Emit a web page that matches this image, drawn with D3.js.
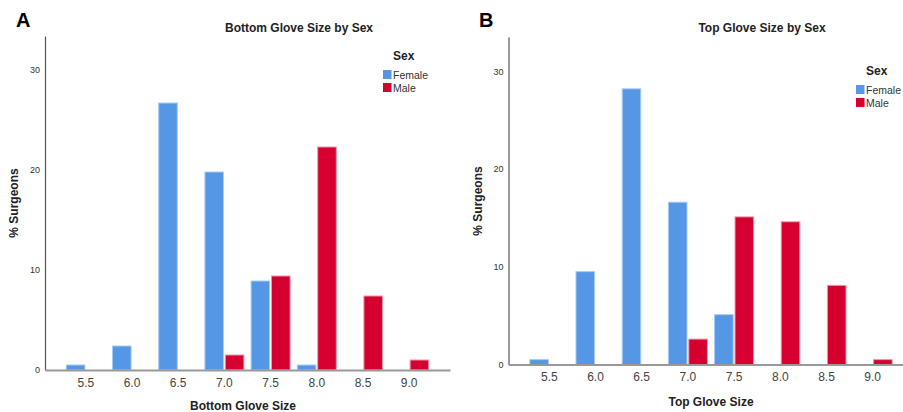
<!DOCTYPE html>
<html>
<head>
<meta charset="utf-8">
<script src="https://cdn.jsdelivr.net/npm/d3@7"></script>
<style>
  body { margin: 0; background: #fff; }
  svg { font-family: "Liberation Sans", Arial, sans-serif; display: block; }
</style>
</head>
<body>
<div id="chart"></div>
<script>
const sizes = ['5.5', '6.0', '6.5', '7.0', '7.5', '8.0', '8.5', '9.0'];
const sexes = ['Female', 'Male'];
const yTicks = [0, 10, 20, 30];

// % surgeons per glove size
const bottomFemale = [0.5, 2.4, 26.7, 19.8, 8.9, 0.5, 0, 0];
const bottomMale = [0, 0, 0, 1.5, 9.4, 22.3, 7.4, 1.0];
const topFemale = [0.5, 9.5, 28.2, 16.6, 5.1, 0, 0, 0];
const topMale = [0, 0, 0, 2.6, 15.1, 14.6, 8.1, 0.5];

const fill = { Female: '#5596e5', Male: '#d5002f' };
const edge = { Female: '#a8cbf4', Male: '#ec98a8' };

const width = 903, height = 412;

const svg = d3.select('#chart')
    .append('svg')
    .attr('width', width)
    .attr('height', height);

const panels = [
    {
        letter: 'A', letterX: 16, title: 'Bottom Glove Size by Sex', titleX: 299,
        xLabel: 'Bottom Glove Size', xLabelX: 243, xLabelY: 410,
        left: 45, yTop: 36, yZero: 370, yMax: 33.4, yLabelX: 18, yLabelY: 203,
        legendX: 383, legendY: 60,
        female: bottomFemale, male: bottomMale
    },
    {
        letter: 'B', letterX: 479, title: 'Top Glove Size by Sex', titleX: 762,
        xLabel: 'Top Glove Size', xLabelX: 711, xLabelY: 406,
        left: 508.5, yTop: 37, yZero: 364.5, yMax: 33.5, yLabelX: 482, yLabelY: 201,
        legendX: 856, legendY: 75,
        female: topFemale, male: topMale
    }
];

panels.forEach(p => {
    const g = svg.append('g');

    const x0 = d3.scaleBand()
        .domain(sizes)
        .range([p.left, p.left + 405])
        .paddingInner(0.134)
        .paddingOuter(0.45);

    const x1 = d3.scaleBand()
        .domain(sexes)
        .range([0, x0.bandwidth()])
        .paddingInner(0.04);

    const y = d3.scaleLinear()
        .domain([0, p.yMax])
        .range([p.yZero, p.yTop]);

    const rows = sizes.map((s, i) => ({ size: s, Female: p.female[i], Male: p.male[i] }));

    // bars
    g.selectAll('.group')
        .data(rows)
        .enter().append('g')
        .attr('transform', d => `translate(${x0(d.size)},0)`)
        .selectAll('rect')
        .data(d => sexes.map(k => ({ key: k, value: d[k] })).filter(b => b.value > 0))
        .enter().append('rect')
        .attr('x', d => x1(d.key) + 0.5)
        .attr('width', x1.bandwidth() - 1)
        .attr('y', d => y(d.value))
        .attr('height', d => y(0) - y(d.value))
        .attr('fill', d => fill[d.key])
        .attr('stroke', d => edge[d.key])
        .attr('stroke-width', 1);

    // y axis
    const yAxis = g.append('g')
        .attr('transform', `translate(${p.left},0)`)
        .call(d3.axisLeft(y).tickValues(yTicks).tickSize(0).tickPadding(5).tickSizeOuter(0));
    yAxis.select('.domain').attr('stroke', '#555').attr('stroke-width', 1.2);
    yAxis.selectAll('text')
        .attr('font-size', 9)
        .attr('fill', '#333')
        .attr('font-family', '"Liberation Sans", Arial, sans-serif');

    // x axis
    const xAxis = g.append('g')
        .attr('transform', `translate(0,${p.yZero})`)
        .call(d3.axisBottom(x0).tickSize(0).tickPadding(8).tickSizeOuter(0));
    xAxis.select('.domain').attr('stroke', '#999').attr('stroke-width', 1.8);
    xAxis.selectAll('text')
        .attr('font-size', 12)
        .attr('fill', '#444')
        .attr('font-family', '"Liberation Sans", Arial, sans-serif');

    // labels
    g.append('text')
        .attr('x', p.letterX)
        .attr('y', 27)
        .attr('font-size', 20)
        .attr('font-weight', 'bold')
        .text(p.letter);

    g.append('text')
        .attr('x', p.titleX)
        .attr('y', 32)
        .attr('text-anchor', 'middle')
        .attr('font-size', 12)
        .attr('font-weight', 'bold')
        .attr('fill', '#222')
        .text(p.title);

    g.append('text')
        .attr('x', p.xLabelX)
        .attr('y', p.xLabelY)
        .attr('text-anchor', 'middle')
        .attr('font-size', 12)
        .attr('font-weight', 'bold')
        .attr('fill', '#222')
        .text(p.xLabel);

    g.append('text')
        .attr('transform', `translate(${p.yLabelX},${p.yLabelY}) rotate(-90)`)
        .attr('text-anchor', 'middle')
        .attr('font-size', 12)
        .attr('font-weight', 'bold')
        .attr('fill', '#222')
        .text('% Surgeons');

    // legend
    const lg = g.append('g').attr('transform', `translate(${p.legendX},${p.legendY})`);
    lg.append('text')
        .attr('x', 10)
        .attr('y', 0)
        .attr('font-size', 12)
        .attr('font-weight', 'bold')
        .attr('fill', '#222')
        .text('Sex');
    sexes.forEach((k, i) => {
        lg.append('rect')
            .attr('x', 0)
            .attr('y', 10 + i * 13)
            .attr('width', 8.5)
            .attr('height', 9)
            .attr('fill', fill[k]);
        lg.append('text')
            .attr('x', 10)
            .attr('y', 18.5 + i * 13)
            .attr('font-size', 10.5)
            .attr('fill', '#333')
            .text(k);
    });
});
</script>
</body>
</html>
